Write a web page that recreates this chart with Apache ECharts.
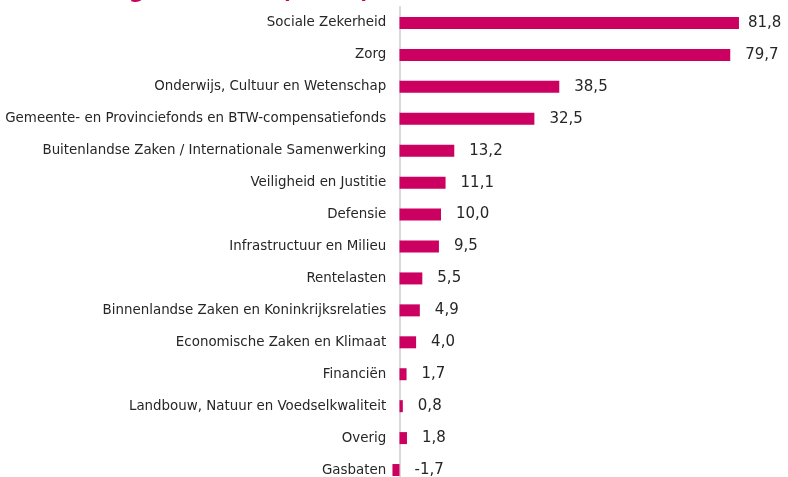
<!DOCTYPE html>
<html>
<head>
<meta charset="utf-8">
<script src="https://cdn.jsdelivr.net/npm/echarts@6/dist/echarts.min.js"></script>
<style>
  html, body { margin: 0; padding: 0; background: #ffffff; overflow: hidden; }
  #chart { width: 788px; height: 487px; }
</style>
</head>
<body>
<div id="chart"></div>
<script>
// Budget categories, top to bottom
const categories = [
  'Sociale Zekerheid',
  'Zorg',
  'Onderwijs, Cultuur en Wetenschap',
  'Gemeente- en Provinciefonds en BTW-compensatiefonds',
  'Buitenlandse Zaken / Internationale Samenwerking',
  'Veiligheid en Justitie',
  'Defensie',
  'Infrastructuur en Milieu',
  'Rentelasten',
  'Binnenlandse Zaken en Koninkrijksrelaties',
  'Economische Zaken en Klimaat',
  'Financiën',
  'Landbouw, Natuur en Voedselkwaliteit',
  'Overig',
  'Gasbaten'
];

// Amounts in billions of euros
const amounts = [81.8, 79.7, 38.5, 32.5, 13.2, 11.1, 10.0, 9.5, 5.5, 4.9, 4.0, 1.7, 0.8, 1.8, -1.7];

const titleText = 'Extra uitgaven 2025 (mld €)';

const PINK = '#cc0060';
const FONT = '"DejaVu Sans", Verdana, sans-serif';

const chart = echarts.init(document.getElementById('chart'), null, { renderer: 'canvas' });

// The largest bar sits close to the edge, so its label hugs the bar a bit more
const seriesData = amounts.map((v, i) =>
  i === 0 ? { value: v, label: { distance: 9 } } : v
);

chart.setOption({
  animation: false,
  backgroundColor: '#ffffff',
  graphic: [{
    type: 'text',
    left: 22,
    top: -19,
    style: {
      text: titleText,
      fill: PINK,
      font: 'bold 22px ' + FONT
    }
  }],
  grid: {
    left: 391.2,
    top: 7,
    width: 381.8,
    height: 479,
    containLabel: false
  },
  xAxis: {
    type: 'value',
    min: -2,
    max: 90,
    show: false
  },
  yAxis: {
    type: 'category',
    data: categories,
    inverse: true,
    axisTick: { show: false },
    axisLine: {
      show: true,
      onZero: true,
      lineStyle: { color: '#d9d9d9', width: 2 }
    },
    axisLabel: {
      margin: 5,
      color: '#262626',
      fontFamily: FONT,
      fontSize: 13.4
    },
    splitLine: { show: false }
  },
  series: [{
    type: 'bar',
    data: seriesData,
    barWidth: 12,
    itemStyle: { color: PINK },
    label: {
      show: true,
      position: 'right',
      distance: 15,
      color: '#262626',
      fontFamily: FONT,
      fontSize: 15,
      formatter: p => p.value.toFixed(1).replace('.', ',')
    }
  }]
});
</script>
</body>
</html>
